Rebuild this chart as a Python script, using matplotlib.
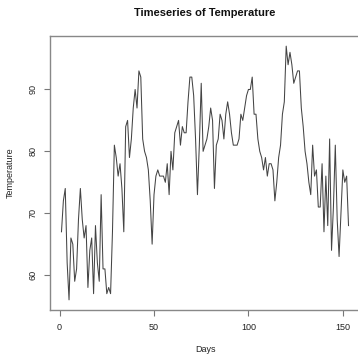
import matplotlib
matplotlib.use("Agg")
import matplotlib.pyplot as plt
import numpy as np

# daily temperatures (airquality, May-Sep)
temperature = [
    67, 72, 74, 62, 56, 66, 65, 59, 61, 69, 74, 69, 66, 68, 58, 64, 66, 57, 68, 62,
    59, 73, 61, 61, 57, 58, 57, 67, 81, 79, 76, 78, 74, 67, 84, 85, 79, 82, 87, 90,
    87, 93, 92, 82, 80, 79, 77, 72, 65, 73, 76, 77, 76, 76, 76, 75, 78, 73, 80, 77,
    83, 84, 85, 81, 84, 83, 83, 88, 92, 92, 89, 82, 73, 81, 91, 80, 81, 82, 84, 87,
    85, 74, 81, 82, 86, 85, 82, 86, 88, 86, 83, 81, 81, 81, 82, 86, 85, 87, 89, 90,
    90, 92, 86, 86, 82, 80, 79, 77, 79, 76, 78, 78, 77, 72, 75, 79, 81, 86, 88, 97,
    94, 96, 94, 91, 92, 93, 93, 87, 84, 80, 78, 75, 73, 81, 76, 77, 71, 71, 78, 67,
    76, 68, 82, 64, 71, 81, 69, 63, 70, 77, 75, 76, 68,
]
days = np.arange(1, len(temperature) + 1)
x_ticks = [0, 50, 100, 150]
y_ticks = [60, 70, 80, 90]

plt.rcParams["font.family"] = ["Liberation Sans", "DejaVu Sans"]

W, H = 358, 354
fig = plt.figure(figsize=(W / 100, H / 100), dpi=100)
ax = fig.add_axes([50 / W, (H - 310) / H, 310 / W, 274 / H])

ax.plot(days, temperature, color="#444444", linewidth=0.75)

# R-style 4% padding
lo, hi = min(days), max(days)
pad = 0.04 * (hi - lo)
ax.set_xlim(lo - pad, hi + pad)
lo, hi = min(temperature), max(temperature)
pad = 0.04 * (hi - lo)
ax.set_ylim(lo - pad, hi + pad)

ax.set_xticks(x_ticks)
ax.set_yticks(y_ticks)
ax.set_yticklabels([str(v) for v in y_ticks], rotation=90, va="center")
ax.tick_params(labelsize=6.5, length=4, width=0.8, color="#777777",
               labelcolor="#222222", pad=5)
for s in ax.spines.values():
    s.set_color("#888888")
    s.set_linewidth(1.0)

ax.set_xlabel("Days", fontsize=6.5, color="#222222", labelpad=10)
ax.set_ylabel("Temperature", fontsize=6.5, color="#222222", labelpad=10)
fig.text(205 / W, 1 - 13 / H, "Timeseries of Temperature", ha="center", va="center",
         fontsize=8, fontweight="bold", color="#111111")

fig.savefig("out.png", dpi=100)
